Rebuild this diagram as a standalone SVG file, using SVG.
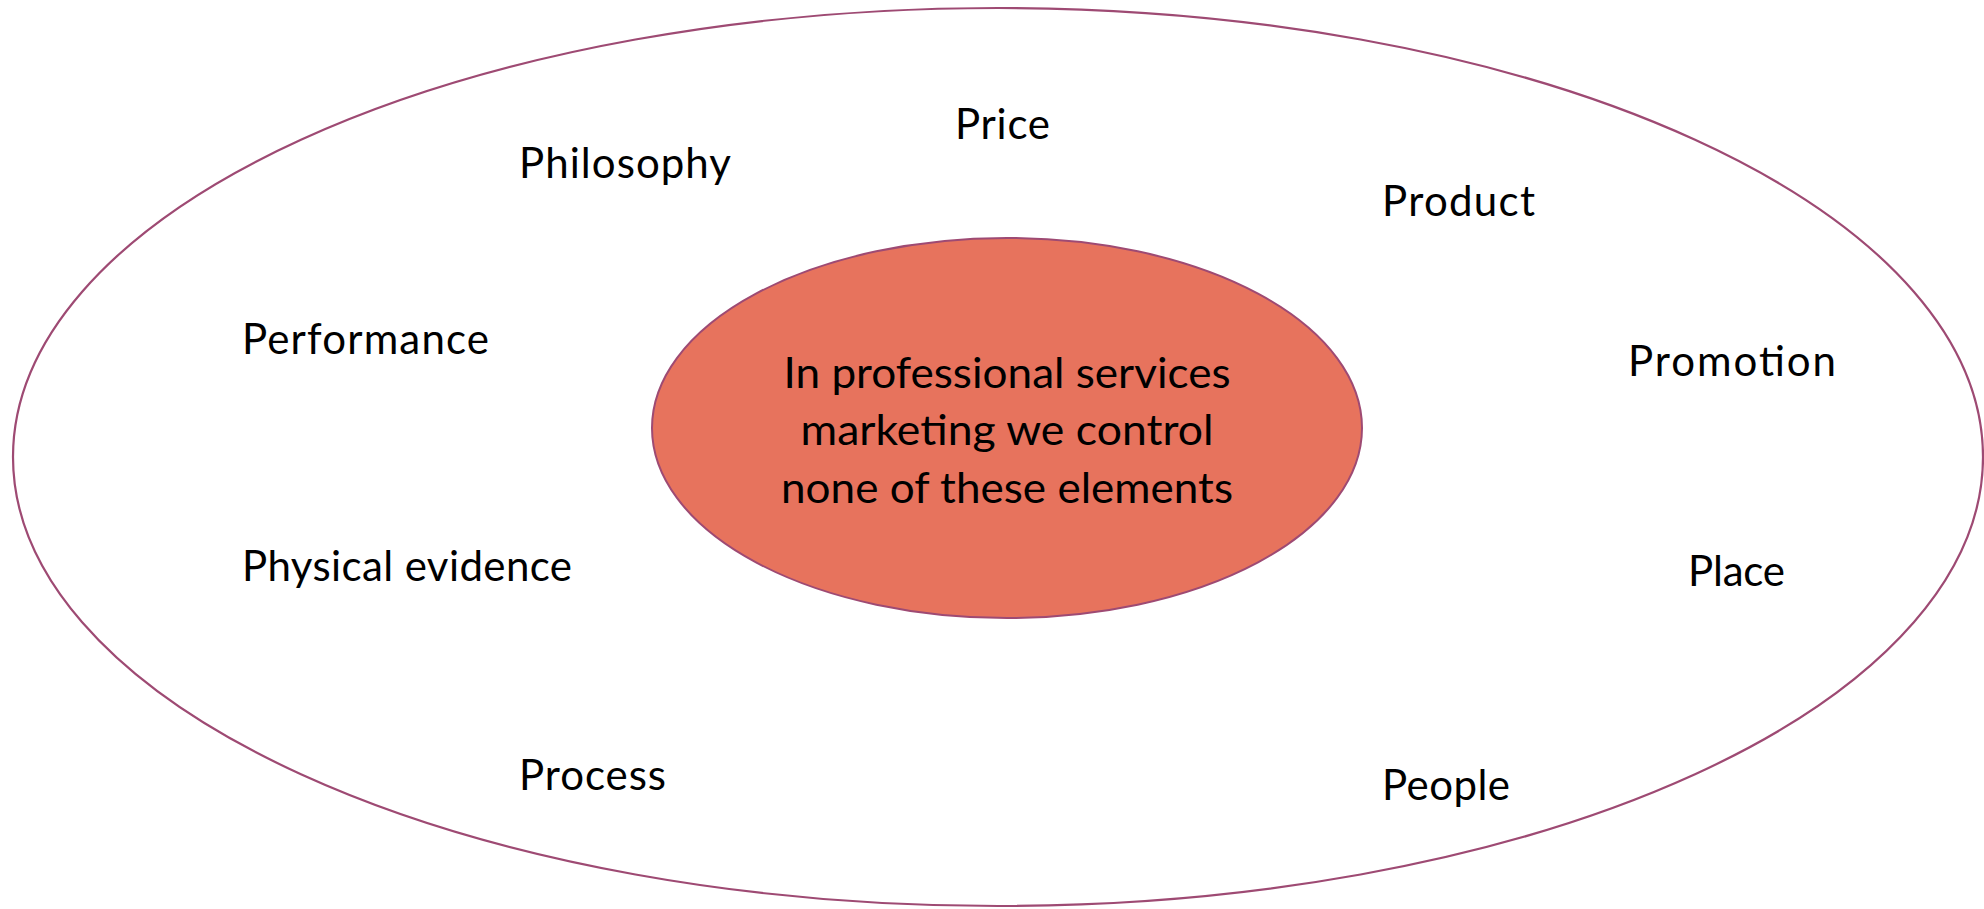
<svg xmlns="http://www.w3.org/2000/svg" width="1984" height="909" viewBox="0 0 1984 909">
<style>
.lbl{font-family:Lato,"Open Sans","Liberation Sans",sans-serif;font-size:42px;fill:#000}
.ctr{font-family:Lato,"Open Sans","Liberation Sans",sans-serif;font-size:42px;fill:#000;text-anchor:middle}
</style>
<rect width="1984" height="909" fill="#fff"/>
<g id="outer"><ellipse cx="998" cy="457" rx="985" ry="449" fill="none" stroke="#9e4a73" stroke-width="2.2"/></g>
<g id="inner"><ellipse cx="1007" cy="428" rx="355" ry="190" fill="#e7735d" stroke="#9e4a73" stroke-width="2"/>
<text class="ctr" x="1007" y="388" textLength="447" lengthAdjust="spacingAndGlyphs">In professional services</text>
<text class="ctr" x="1007" y="445" textLength="413" lengthAdjust="spacingAndGlyphs">marketing we control</text>
<text class="ctr" x="1007" y="503" textLength="452" lengthAdjust="spacingAndGlyphs">none of these elements</text>
</g>
<g id="price"><text class="lbl" x="955" y="139" textLength="95">Price</text></g>
<g id="philosophy"><text class="lbl" x="519" y="178" textLength="212">Philosophy</text></g>
<g id="product"><text class="lbl" x="1382" y="216" textLength="153">Product</text></g>
<g id="performance"><text class="lbl" x="242" y="354" textLength="247">Performance</text></g>
<g id="promotion"><text class="lbl" x="1628" y="376" textLength="208">Promotion</text></g>
<g id="physical"><text class="lbl" x="242" y="581" textLength="330">Physical evidence</text></g>
<g id="place"><text class="lbl" x="1688" y="586" textLength="97">Place</text></g>
<g id="process"><text class="lbl" x="519" y="790" textLength="147">Process</text></g>
<g id="people"><text class="lbl" x="1382" y="800" textLength="128">People</text></g>
</svg>
